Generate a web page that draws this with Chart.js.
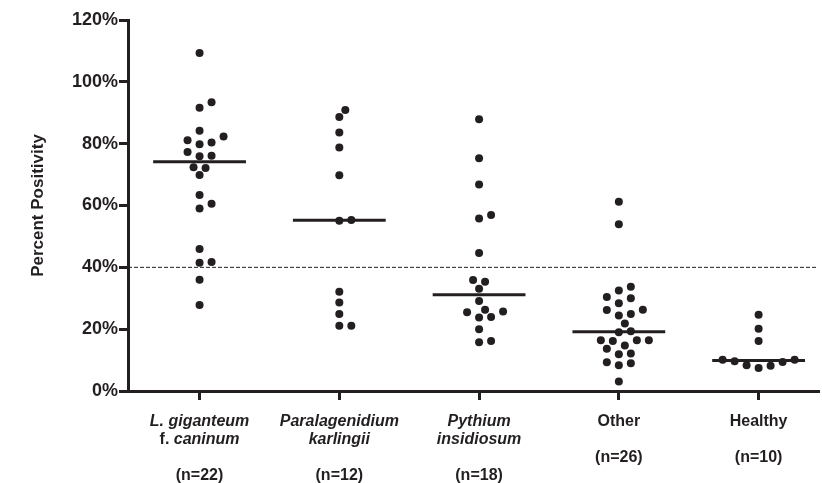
<!DOCTYPE html>
<html><head><meta charset="utf-8">
<script src="https://cdn.jsdelivr.net/npm/chart.js@4"></script>
<style>html,body{margin:0;padding:0;background:#fff}</style>
</head><body>
<canvas id="c" width="822" height="483"></canvas>
<script>
// ---- data (percent positivity per animal) ----
const lGiganteum = [109.3, 93.4, 91.6, 84.2, 82.3, 81.1, 80.4, 79.8, 77.3, 76.1, 75.9, 72.4, 72.1, 69.9, 63.4, 60.6, 59.0, 45.9, 41.7, 41.5, 36.0, 27.8];
const paralagenidium = [90.9, 88.6, 83.6, 78.8, 69.8, 55.3, 55.1, 32.1, 28.6, 24.9, 21.1, 21.1];
const pythium = [87.9, 75.3, 66.8, 56.9, 55.8, 44.6, 35.9, 35.3, 33.1, 29.1, 26.3, 25.7, 25.5, 23.9, 23.8, 20.0, 16.2, 15.8];
const other = [61.2, 53.9, 33.7, 32.5, 30.4, 30.0, 28.4, 26.3, 26.2, 24.9, 24.4, 21.8, 19.3, 19.0, 16.4, 16.4, 16.4, 16.2, 14.7, 13.7, 12.1, 11.9, 9.3, 9.0, 8.3, 3.1];
const healthy = [24.7, 20.1, 16.2, 10.1, 10.1, 9.6, 9.4, 8.3, 8.2, 7.4];
const groups = [lGiganteum, paralagenidium, pythium, other, healthy];
const cutoff = 40;
const yTicks = [0, 20, 40, 60, 80, 100, 120];
// category label lines: each line is a list of [text, italic?]
const categoryLabels = [
  [[['L. giganteum', true]], [['f. ', false], ['caninum', true]]],
  [[['Paralagenidium', true]], [['karlingii', true]]],
  [[['Pythium', true]], [['insidiosum', true]]],
  [[['Other', false]]],
  [[['Healthy', false]]]
];

const ink = '#231f20';
const FAM = '"Liberation Sans", Arial, Helvetica, sans-serif';
const X_MIN = 0.488, X_MAX = 5.425, HALF = 0.332;

function median(a){ const s=[...a].sort((p,q)=>p-q); const n=s.length; return n%2?s[(n-1)/2]:(s[n/2-1]+s[n/2])/2; }

const datasets = [];
datasets.push({ type:'scatter', showLine:true, order:3, data:[{x:X_MIN,y:cutoff},{x:X_MAX,y:cutoff}],
  borderColor:ink, borderWidth:1, borderDash:[4,2], pointRadius:0 });
groups.forEach((g,i)=>{
  datasets.push({ type:'scatter', order:2, data:g.map(v=>({x:i+1,y:v})),
    pointRadius:4, pointBackgroundColor:ink, pointBorderWidth:0, borderColor:ink });
});
groups.forEach((g,i)=>{
  const m = median(g);
  datasets.push({ type:'scatter', showLine:true, order:1, data:[{x:i+1-HALF,y:m},{x:i+1+HALF,y:m}],
    borderColor:ink, borderWidth:3, pointRadius:0 });
});

const xLabelPlugin = {
  id:'xlabels',
  afterDraw(chart){
    const ctx = chart.ctx, xs = chart.scales.x, base = chart.chartArea.bottom;
    ctx.save();
    ctx.fillStyle = ink; ctx.textBaseline = 'alphabetic';
    categoryLabels.forEach((lines, i)=>{
      const cx = xs.getPixelForValue(i+1);
      const all = lines.concat([[]], [[['(n=' + groups[i].length + ')', false]]]);
      all.forEach((parts, li)=>{
        if (!parts.length) return;
        const y = base + 35 + li*18;
        let w = 0;
        parts.forEach(([t,it])=>{ ctx.font = (it?'italic ':'') + 'bold 16px ' + FAM; w += ctx.measureText(t).width; });
        let x = cx - w/2;
        ctx.textAlign = 'left';
        parts.forEach(([t,it])=>{ ctx.font = (it?'italic ':'') + 'bold 16px ' + FAM; ctx.fillText(t, x, y); x += ctx.measureText(t).width; });
      });
    });
    ctx.restore();
  }
};

const chart = new Chart(document.getElementById('c'), {
  type:'scatter',
  data:{ datasets },
  plugins:[xLabelPlugin],
  options:{
    responsive:false, animation:false, devicePixelRatio:1,
    layout:{ padding:{ top:20, left:0, right:0, bottom:0 } },
    plugins:{ legend:{display:false}, tooltip:{enabled:false} },
    scales:{
      x:{ type:'linear', min:X_MIN, max:X_MAX, position:'bottom',
        afterBuildTicks:s=>{ s.ticks = groups.map((g,i)=>({value:i+1})); },
        afterFit:s=>{ s.height = 92; },
        ticks:{ display:false },
        grid:{ drawOnChartArea:false, drawTicks:true, tickLength:9, lineWidth:3, color:ink },
        border:{ display:true, width:3, color:ink } },
      y:{ type:'linear', min:0, max:120, position:'left',
        afterBuildTicks:s=>{ s.ticks = yTicks.map(v=>({value:v})); },
        afterFit:s=>{ s.width = 128; },
        ticks:{ callback:v=>v+'%', color:ink, padding:1, font:{ family:FAM, size:18, weight:'bold' } },
        grid:{ drawOnChartArea:false, drawTicks:true, tickLength:9, lineWidth:3, color:ink },
        border:{ display:true, width:3, color:ink },
        title:{ display:true, text:'Percent Positivity', color:ink, padding:{top:28,bottom:0},
          font:{ family:FAM, size:17, weight:'bold' } } }
    }
  }
});

// beeswarm arrangement computed from the values via the chart's own scales
(function swarm(){
  const xs = chart.scales.x, ys = chart.scales.y;
  const unit = xs.getPixelForValue(2) - xs.getPixelForValue(1);
  const step = 6, minD = 9;
  groups.forEach((vals, gi)=>{
    const ds = chart.data.datasets[1+gi];
    const order = vals.map((v,i)=>i).sort((a,b)=>vals[a]-vals[b]);
    const placed = [];
    order.forEach(i=>{
      const py = ys.getPixelForValue(vals[i]);
      for (let k=0;k<200;k++){
        const dx = k===0 ? 0 : (k%2 ? 1 : -1) * Math.ceil(k/2) * step;
        if (placed.every(p=>Math.hypot(p.dx-dx, p.py-py) >= minD)){
          placed.push({dx,py}); ds.data[i].x = gi+1 + dx/unit; break;
        }
      }
    });
  });
  chart.update('none');
})();
</script>
</body></html>
